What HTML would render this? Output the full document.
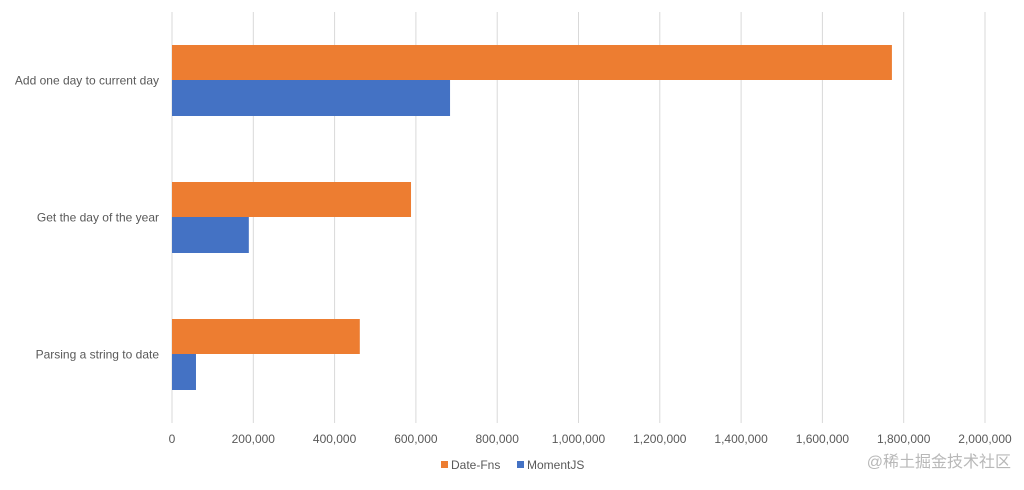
<!DOCTYPE html>
<html><head><meta charset="utf-8"><style>
body{margin:0;background:#fff;width:1024px;height:485px;overflow:hidden;font-family:"Liberation Sans","Noto Sans CJK SC",sans-serif;}
svg text{font-family:"Liberation Sans","Noto Sans CJK SC",sans-serif;}
</style></head><body>
<svg id="chart" width="1024" height="485" xmlns="http://www.w3.org/2000/svg">
<g id="grid"></g>
<g id="bars"></g>
<g id="cats"></g>
<g id="ticks"></g>
<g>
<rect x="441" y="461" width="7" height="7" fill="#ed7d31"/>
<text x="451" y="469" font-size="12" fill="#595959">Date-Fns</text>
<rect x="517" y="461" width="7" height="7" fill="#4472c4"/>
<text x="527" y="469" font-size="12" fill="#595959">MomentJS</text>
</g>
<text x="1011" y="467" font-size="16" fill="#b8b8b8" text-anchor="end">@稀土掘金技术社区</text>
</svg>
<script>
const categories=["Add one day to current day","Get the day of the year","Parsing a string to date"];
const dateFns=[1771000,588000,462000];
const moment=[684000,189000,59000];
const tickValues=[0,200000,400000,600000,800000,1000000,1200000,1400000,1600000,1800000,2000000];
const NS="http://www.w3.org/2000/svg";
const x0=172,x1=985,max=2000000;
const xs=v=>x0+(x1-x0)*v/max;
const bandTop=12,bandH=137;
function mk(t,a,p){const e=document.createElementNS(NS,t);for(const k in a)e.setAttribute(k,a[k]);p.appendChild(e);return e;}
const grid=document.getElementById('grid'),bars=document.getElementById('bars'),cats=document.getElementById('cats'),ticks=document.getElementById('ticks');
tickValues.forEach((v,i)=>{
 const l=mk('line',{x1:xs(v),x2:xs(v),y1:12,y2:423,stroke:'#d9d9d9','stroke-width':1},grid);
 
 
 const t=mk('text',{x:xs(v),y:443,'font-size':12,fill:'#595959','text-anchor':'middle'},ticks);
 t.textContent=v.toLocaleString('en-US');
 
 
});
categories.forEach((c,i)=>{
 const mid=bandTop+bandH*i+bandH/2;
 const b1=mk('rect',{x:x0,y:mid-35.5,width:xs(dateFns[i])-x0,height:35,fill:'#ed7d31'},bars);
 
 
 const b2=mk('rect',{x:x0,y:mid-0.5,width:xs(moment[i])-x0,height:36,fill:'#4472c4'},bars);
 
 
 const t=mk('text',{x:159,y:mid+4,'font-size':12,fill:'#595959','text-anchor':'end'},cats);
 t.textContent=c;
 
 
});
</script>
</body></html>
